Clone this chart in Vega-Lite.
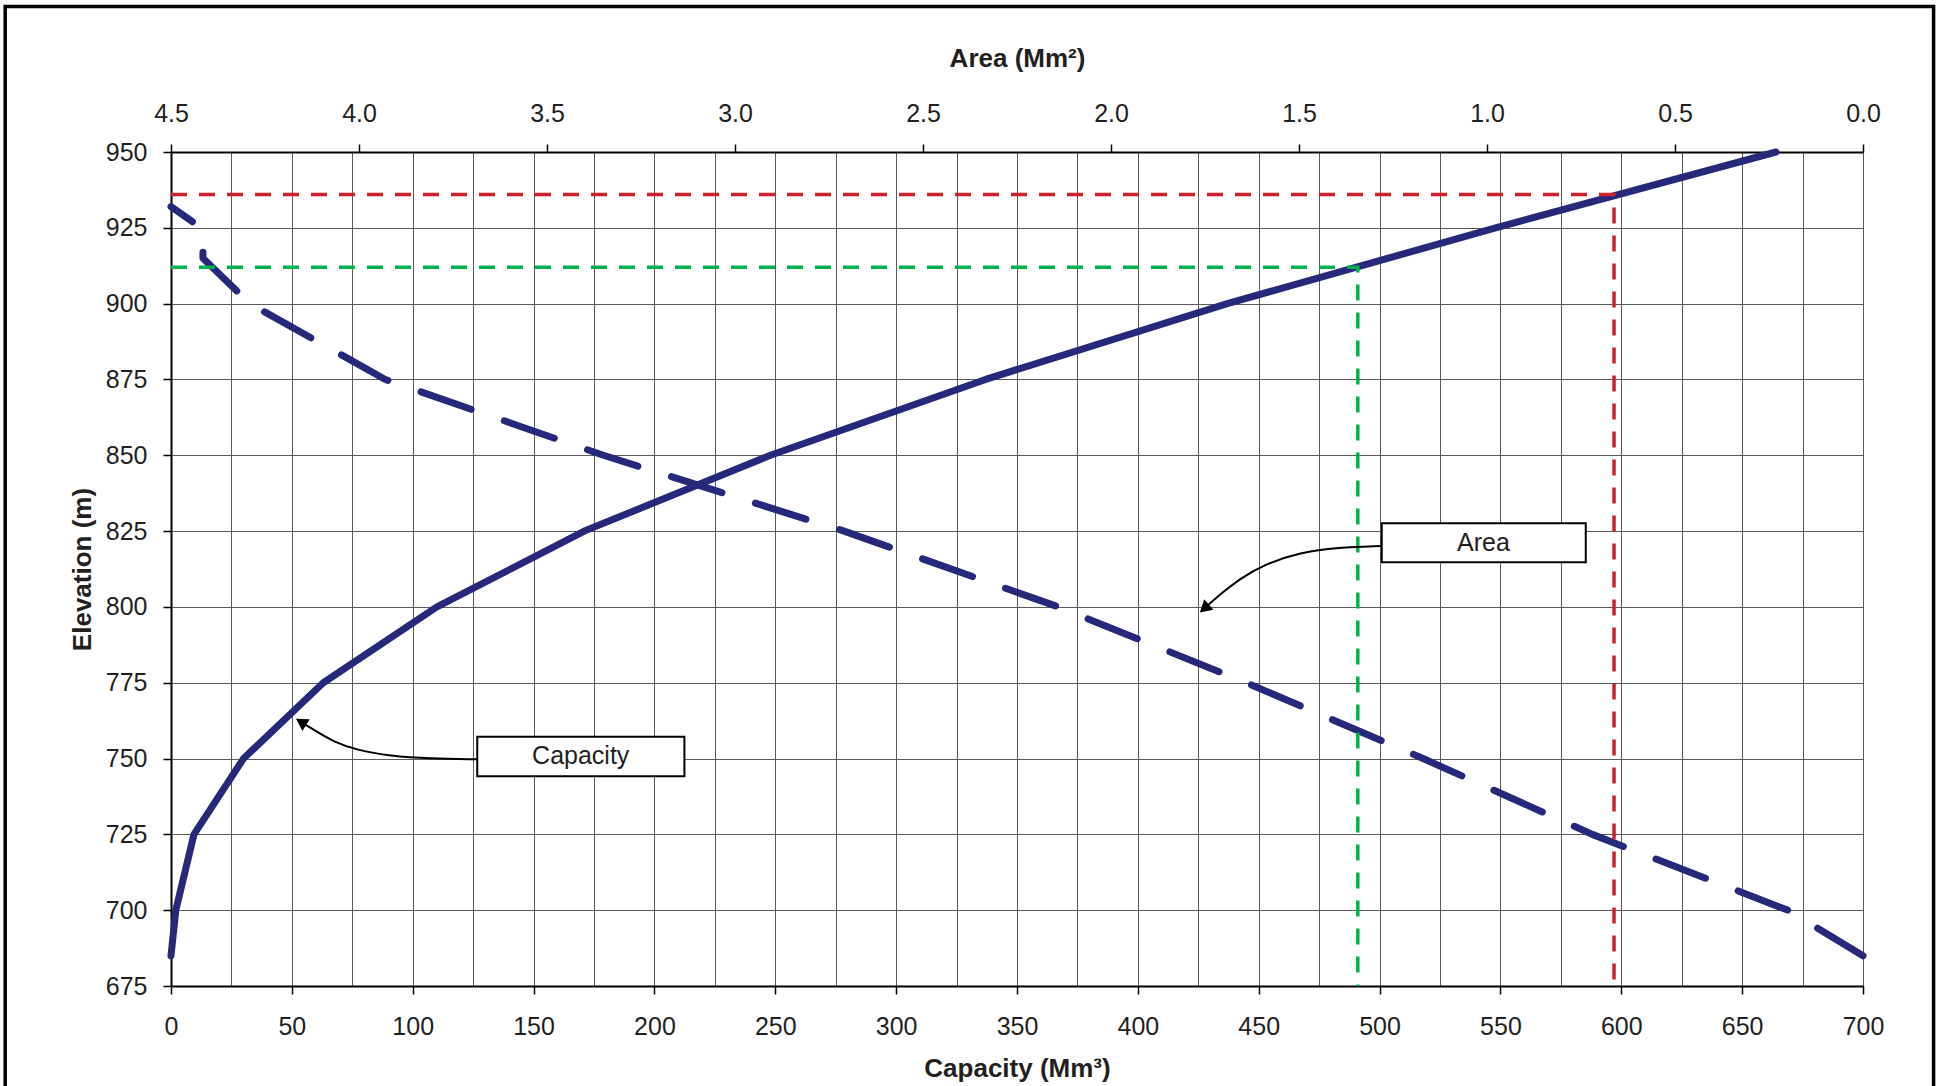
{
  "$schema": "https://vega.github.io/schema/vega-lite/v6.json",
  "width": 1692,
  "height": 834,
  "autosize": {"type": "none"},
  "padding": {"left": 171, "top": 152, "right": 79, "bottom": 100},
  "background": "white",
  "config": {
    "view": {"stroke": null},
    "font": "Liberation Sans",
    "axis": {
      "labelFont": "Liberation Sans", "labelFontSize": 25, "labelColor": "#231f20",
      "titleFont": "Liberation Sans", "titleFontSize": 26, "titleFontWeight": "bold", "titleColor": "#231f20",
      "domainColor": "#000", "domainWidth": 2, "tickColor": "#000", "tickWidth": 1.5, "tickSize": 8,
      "gridColor": "#5a5a5a", "gridWidth": 1, "gridOpacity": 1, "labelFlush": false, "labelOverlap": false
    }
  },
  "datasets": {
    "capacity": [
      {"elev": 685, "cap": 0}, {"elev": 700, "cap": 2}, {"elev": 725, "cap": 9.5}, {"elev": 750, "cap": 30},
      {"elev": 775, "cap": 63}, {"elev": 800, "cap": 110}, {"elev": 825, "cap": 171}, {"elev": 850, "cap": 248},
      {"elev": 875, "cap": 337}, {"elev": 900, "cap": 437}, {"elev": 925, "cap": 548}, {"elev": 950, "cap": 664}
    ],
    "area": [
      {"elev": 685, "area": 0}, {"elev": 700, "area": 0.2}, {"elev": 725, "area": 0.72}, {"elev": 750, "area": 1.17},
      {"elev": 775, "area": 1.64}, {"elev": 800, "area": 2.14}, {"elev": 825, "area": 2.71}, {"elev": 850, "area": 3.35},
      {"elev": 875, "area": 3.93}, {"elev": 900, "area": 4.29}, {"elev": 915, "area": 4.415}, {"elev": 918, "area": 4.415},
      {"elev": 925, "area": 4.42}, {"elev": 932, "area": 4.5}
    ],
    "refs": [
      {"ref": "red", "ord": 1, "cap": 0, "elev": 936}, {"ref": "red", "ord": 2, "cap": 597, "elev": 936}, {"ref": "red", "ord": 3, "cap": 597, "elev": 675},
      {"ref": "green", "ord": 1, "cap": 0, "elev": 912}, {"ref": "green", "ord": 2, "cap": 491, "elev": 912}, {"ref": "green", "ord": 3, "cap": 491, "elev": 675}
    ],
    "notes": [
      {"label": "Capacity", "x1": 126.7, "x2": 212.4, "y1": 744.2, "y2": 757.2, "tx": 169.5, "ty": 750.7},
      {"label": "Area", "x1": 500.9, "x2": 585.3, "y1": 814.7, "y2": 827.6, "tx": 543, "ty": 821.1}
    ],
    "leaders": [
      {"note": "Capacity", "ord": 1, "cap": 126.5, "elev": 749.75}, {"note": "Capacity", "ord": 2, "cap": 107.2, "elev": 749.95},
      {"note": "Capacity", "ord": 3, "cap": 90.6, "elev": 750.8}, {"note": "Capacity", "ord": 4, "cap": 76.8, "elev": 752.8},
      {"note": "Capacity", "ord": 5, "cap": 67.1, "elev": 755.6}, {"note": "Capacity", "ord": 6, "cap": 60.3, "elev": 758.9},
      {"note": "Capacity", "ord": 7, "cap": 53.8, "elev": 762.05},
      {"note": "Area", "ord": 1, "cap": 500.6, "elev": 820.1}, {"note": "Area", "ord": 2, "cap": 482.7, "elev": 819.6},
      {"note": "Area", "ord": 3, "cap": 467.3, "elev": 818.0}, {"note": "Area", "ord": 4, "cap": 451.9, "elev": 813.9},
      {"note": "Area", "ord": 5, "cap": 441.7, "elev": 809.0}, {"note": "Area", "ord": 6, "cap": 434.0, "elev": 804.1},
      {"note": "Area", "ord": 7, "cap": 427.5, "elev": 799.5}
    ],
    "arrows": [
      {"note": "Capacity", "cap": 53.8, "elev": 762.05},
      {"note": "Area", "cap": 427.5, "elev": 799.5}
    ]
  },
  "layer": [
    {
      "data": {"name": "area"},
      "mark": {"type": "line", "color": "#26287a", "strokeWidth": 7, "strokeDash": [53, 35.1], "strokeCap": "round", "strokeJoin": "round"},
      "encoding": {
        "x": {
          "field": "area", "type": "quantitative",
          "scale": {"domain": [0, 4.5], "reverse": true, "nice": false, "zero": false},
          "axis": {"orient": "top", "values": [0, 0.5, 1, 1.5, 2, 2.5, 3, 3.5, 4, 4.5], "format": ".1f", "grid": false,
                   "title": "Area (Mm²)", "labelPadding": 18, "titlePadding": 30}
        },
        "y": {
          "field": "elev", "type": "quantitative",
          "scale": {"domain": [675, 950], "nice": false, "zero": false},
          "axis": {"orient": "left", "values": [675, 700, 725, 750, 775, 800, 825, 850, 875, 900, 925, 950], "grid": true,
                   "title": "Elevation (m)", "labelPadding": 16, "titlePadding": 10}
        },
        "order": {"field": "elev", "type": "quantitative"}
      }
    },
    {
      "layer": [
        {
          "data": {"name": "capacity"},
          "mark": {"type": "line", "color": "#26287a", "strokeWidth": 7, "strokeCap": "round", "strokeJoin": "round"},
          "encoding": {
            "x": {
              "field": "cap", "type": "quantitative",
              "scale": {"domain": [0, 700], "nice": false, "zero": false},
              "axis": {"orient": "bottom", "values": [0, 25, 50, 75, 100, 125, 150, 175, 200, 225, 250, 275, 300, 325, 350, 375, 400, 425, 450, 475, 500, 525, 550, 575, 600, 625, 650, 675, 700],
                       "labelExpr": "datum.value % 50 === 0 ? datum.label : ''",
                       "tickOpacity": {"condition": {"test": "datum.value % 50 === 0", "value": 1}, "value": 0},
                       "grid": true, "title": "Capacity (Mm³)", "labelPadding": 20, "titlePadding": 16}
            },
            "y": {"field": "elev", "type": "quantitative"},
            "order": {"field": "elev", "type": "quantitative"}
          }
        },
        {
          "data": {"name": "refs"},
          "mark": {"type": "line", "strokeWidth": 3.5, "strokeDash": [16, 12]},
          "encoding": {
            "x": {"field": "cap", "type": "quantitative"},
            "y": {"field": "elev", "type": "quantitative"},
            "detail": {"field": "ref"},
            "order": {"field": "ord", "type": "quantitative"},
            "color": {"field": "ref", "type": "nominal", "scale": {"domain": ["red", "green"], "range": ["#d0202e", "#00b04f"]}, "legend": null}
          }
        },
        {
          "data": {"name": "leaders"},
          "mark": {"type": "line", "color": "#000", "strokeWidth": 2, "interpolate": "basis"},
          "encoding": {
            "x": {"field": "cap", "type": "quantitative"},
            "y": {"field": "elev", "type": "quantitative"},
            "detail": {"field": "note"},
            "order": {"field": "ord", "type": "quantitative"}
          }
        },
        {
          "data": {"name": "arrows"},
          "transform": [{"filter": "datum.note === 'Capacity'"}],
          "mark": {"type": "point", "shape": "triangle-up", "filled": true, "color": "#000", "opacity": 1, "size": 190, "angle": 302},
          "encoding": {
            "x": {"field": "cap", "type": "quantitative"},
            "y": {"field": "elev", "type": "quantitative"}
          }
        },
        {
          "data": {"name": "arrows"},
          "transform": [{"filter": "datum.note === 'Area'"}],
          "mark": {"type": "point", "shape": "triangle-up", "filled": true, "color": "#000", "opacity": 1, "size": 190, "angle": 228.5},
          "encoding": {
            "x": {"field": "cap", "type": "quantitative"},
            "y": {"field": "elev", "type": "quantitative"}
          }
        },
        {
          "data": {"name": "notes"},
          "mark": {"type": "rect", "fill": "white", "stroke": "#000", "strokeWidth": 2},
          "encoding": {
            "x": {"field": "x1", "type": "quantitative"},
            "x2": {"field": "x2"},
            "y": {"field": "y1", "type": "quantitative"},
            "y2": {"field": "y2"}
          }
        },
        {
          "data": {"name": "notes"},
          "mark": {"type": "text", "font": "Liberation Sans", "fontSize": 25, "color": "#231f20", "align": "center", "baseline": "middle"},
          "encoding": {
            "x": {"field": "tx", "type": "quantitative"},
            "y": {"field": "ty", "type": "quantitative"},
            "text": {"field": "label"}
          }
        },
        {
          "data": {"values": [{}]},
          "mark": {"type": "rect", "filled": false, "color": "#000", "strokeWidth": 3.5},
          "encoding": {
            "x": {"datum": -68.6, "type": "quantitative"},
            "x2": {"datum": 729.2},
            "y": {"datum": 998, "type": "quantitative"},
            "y2": {"datum": 639}
          }
        }
      ]
    }
  ],
  "resolve": {"scale": {"x": "independent"}}
}
